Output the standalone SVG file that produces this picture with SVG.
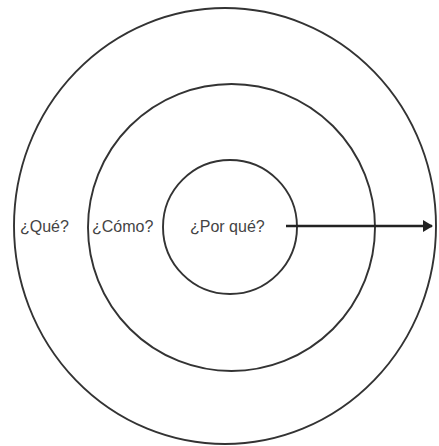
<svg xmlns="http://www.w3.org/2000/svg" width="439" height="446" viewBox="0 0 439 446">
<defs>
<style>
.ring{fill:none;stroke:#333;stroke-width:1.9}
.lbl{font-family:"Liberation Sans",Arial,sans-serif;font-size:16px;fill:#444}
.conn{stroke:#222;stroke-width:2.6;fill:none}
</style>
<marker id="ah" markerWidth="10" markerHeight="12" refX="9" refY="6" orient="auto" markerUnits="userSpaceOnUse">
<path d="M0,0 L10,6 L0,12 Z" fill="#222"/>
</marker>
</defs>
<rect width="439" height="446" fill="#fff"/>
<g id="outer"><ellipse class="ring" cx="225" cy="226" rx="211" ry="218"/><text class="lbl" x="20" y="232">¿Qué?</text></g>
<g id="middle"><circle class="ring" cx="231.5" cy="227.5" r="143.5"/><text class="lbl" x="92" y="232">¿Cómo?</text></g>
<g id="inner"><circle class="ring" cx="230" cy="227" r="67"/><text class="lbl" x="190" y="232">¿Por qué?</text></g>
<g id="connectors"><line class="conn" x1="286" y1="226" x2="432" y2="226" marker-end="url(#ah)"/></g>
</svg>
